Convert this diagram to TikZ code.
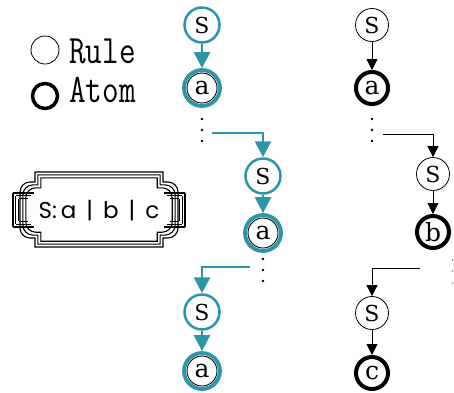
\documentclass[tikz,border=0pt]{standalone}
\usepackage{fontspec}
\newfontfamily\nodefont{DejaVu Serif}
\newfontfamily\boxfont{Poppins}
\usetikzlibrary{arrows.meta}
\definecolor{tealc}{RGB}{42,150,168}
\begin{document}
\begin{tikzpicture}[x=1pt,y=-1pt,
  rulenode/.style={circle, minimum size=33pt, inner sep=0pt, draw=black, line width=0.8pt, fill=white,
    font=\nodefont\fontsize{22}{22}\selectfont},
  atomnode/.style={circle, minimum size=32pt, inner sep=0pt, draw=black, line width=4pt, fill=white,
    font=\nodefont\fontsize{25}{25}\selectfont},
  trule/.style={rulenode, draw=tealc, line width=2.5pt, minimum size=35pt},
  tatom/.style={atomnode, draw=tealc, line width=3.8pt, minimum size=36pt},
  tarrow/.style={draw=tealc, line width=2.5pt, -{Triangle[length=16pt,width=16pt]}},
  barrow/.style={draw=black, line width=0.8pt, -{Triangle[length=11pt,width=11pt]}},
  legtext/.style={anchor=base west, inner sep=0pt, font=\ttfamily\fontsize{31}{31}\selectfont},
  framel/.style={line width=1.1pt},
  innerring/.style={draw=black, line width=0.9pt}
]
\useasboundingbox (0,0) rectangle (454,392);

% legend
\node[draw, circle, line width=0.8pt, minimum size=28pt, inner sep=0pt] (lrule) at (45,50) {};
\node[draw, circle, line width=3.5pt, minimum size=25pt, inner sep=0pt] (latom) at (45,96) {};
\node[legtext] (trl) at (69,63) {\scalebox{1.04}[1.3]{Rule}};
\node[legtext] (tat) at (69,102) {\scalebox{1.04}[1.3]{Atom}};

% frame
\foreach \d in {0,2.9,5.8}{
  \pgfmathsetmacro{\xs}{163-\d}\pgfmathsetmacro{\xo}{178-\d}
  \pgfmathsetmacro{\xls}{35+\d}\pgfmathsetmacro{\xlo}{20+\d}
  \pgfmathsetmacro{\yt}{172+\d}\pgfmathsetmacro{\yb}{247-\d}
  \pgfmathsetmacro{\ya}{182+\d}\pgfmathsetmacro{\yc}{238-\d}
  \draw[framel] (\xls,\yt) -- (\xs,\yt) -- (\xs,\ya) -- ({\xo-10},\ya)
     .. controls ({\xo-4.5},\ya) and (\xo,{\ya+4.5}) .. (\xo,{\ya+10})
     -- (\xo,{\yc-10}) .. controls (\xo,{\yc-4.5}) and ({\xo-4.5},\yc) .. ({\xo-10},\yc)
     -- (\xs,\yc) -- (\xs,\yb) -- (\xls,\yb) -- (\xls,\yc) -- ({\xlo+10},\yc)
     .. controls ({\xlo+4.5},\yc) and (\xlo,{\yc-4.5}) .. (\xlo,{\yc-10})
     -- (\xlo,{\ya+10}) .. controls (\xlo,{\ya+4.5}) and ({\xlo+4.5},\ya) .. ({\xlo+10},\ya)
     -- (\xls,\ya) -- cycle;
  \draw[framel] ({13+\d},{193+\d}) -- ({34-\d},{193+\d});
  \draw[framel] ({13+\d},{227-\d}) -- ({34-\d},{227-\d});
  \draw[framel] ({13+\d},{193+\d}) -- ({13+\d},{227-\d});
  \draw[framel] ({164+\d},{193+\d}) -- ({185-\d},{193+\d});
  \draw[framel] ({164+\d},{227-\d}) -- ({185-\d},{227-\d});
  \draw[framel] ({185-\d},{193+\d}) -- ({185-\d},{227-\d});
}
\node[font=\boxfont\fontsize{23}{23}\selectfont, inner sep=0pt] (rulebox) at (99,211) {S:\,a\, |\, b\, |\, c};

% teal column
\node[trule] (ts1) at (202,25) {S};
\node[tatom] (ta1) at (202,88) {a};
\draw[innerring] (ta1.center) circle (15pt);
\draw[tarrow] (ts1) -- (ta1);
\foreach \y in {119,130,141} \fill (202,\y) circle (1.4pt);
\coordinate (tc1) at (212,133);
\node[trule] (ts2) at (263,176) {S};
\node[tatom] (ta2) at (263,233) {a};
\draw[innerring] (ta2.center) circle (15pt);
\draw[tarrow] (tc1) -| (ts2);
\draw[tarrow] (ts2) -- (ta2);
\foreach \y in {259,270,281} \fill (263,\y) circle (1.4pt);
\coordinate (tc2) at (250,267);
\node[trule] (ts3) at (202,312) {S};
\node[tatom] (ta3) at (202,371) {a};
\draw[innerring] (ta3.center) circle (15pt);
\draw[tarrow] (tc2) -| (ts3);
\draw[tarrow] (ts3) -- (ta3);

% black column
\node[rulenode] (bs1) at (372,25) {S};
\node[atomnode] (ba1) at (372,88) {a};
\draw[barrow] (bs1) -- (ba1);
\foreach \y in {119,130,141} \fill (372,\y) circle (1.3pt);
\coordinate (bc1) at (383,134);
\node[rulenode] (bs2) at (433,174) {S};
\node[atomnode] (bb2) at (433,232) {b};
\draw[barrow] (bc1) -| (bs2);
\draw[barrow] (bs2) -- (bb2);
\foreach \y in {260,271,283} \fill[gray] (452.5,\y) circle (0.9pt);
\coordinate (bc2) at (420,268);
\node[rulenode] (bs3) at (372,313) {S};
\node[atomnode] (bc3) at (372,373) {c};
\draw[barrow] (bc2) -| (bs3);
\draw[barrow] (bs3) -- (bc3);
\end{tikzpicture}
\end{document}
